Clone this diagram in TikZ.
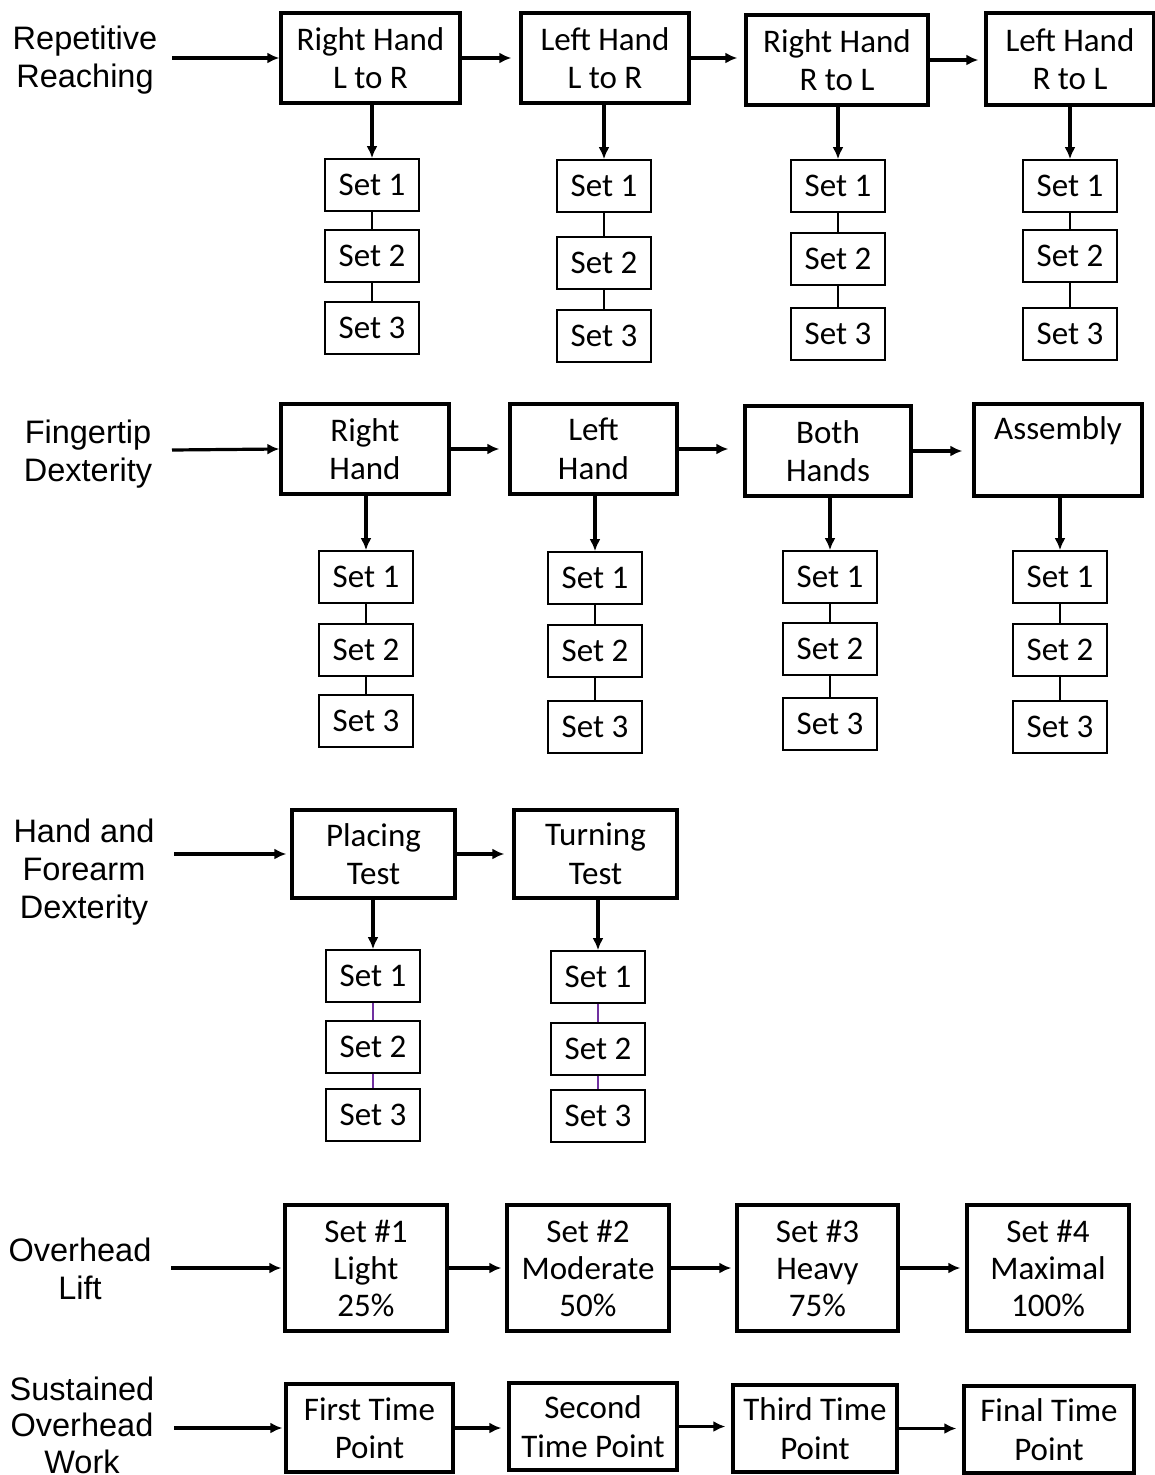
\documentclass[tikz,border=0pt]{standalone}
\usepackage{fontspec}
\setmainfont{Carlito}
\newfontfamily\labelfont{Liberation Sans}
\usetikzlibrary{positioning,arrows.meta}
\definecolor{linkpurple}{RGB}{112,48,160}

\tikzset{
	mainbox/.style={draw, line width=3.3pt, align=center, inner sep=0pt, font=\fontsize{33}{38.5}\selectfont},
	setbox/.style={draw, line width=1.7pt, minimum width=94pt, minimum height=52pt, inner sep=0pt, font=\fontsize{33}{38}\selectfont},
	rowlabel/.style={align=center, font=\labelfont\fontsize{32.5}{38}\selectfont},
	flow/.style={-{Latex[length=12pt,width=11pt]}, line width=3.2pt},
	link/.style={line width=1.5pt},
}

\begin{document}
\begin{tikzpicture}[x=1pt, y=-1pt]
	\useasboundingbox (0,0) rectangle (1155,1475);

	% repetitive reaching
	\node[rowlabel] (reach) at (85,60) {Repetitive\\Reaching};
	\coordinate (reachout) at (172,58);
	\node[mainbox, minimum width=179pt, minimum height=90pt] (rr1) at (370.5,58) {Right Hand\\L to R};
	\node[mainbox, minimum width=168pt, minimum height=90pt] (rr2) at (605,58) {Left Hand\\L to R};
	\node[mainbox, minimum width=182pt, minimum height=90pt] (rr3) at (837,60) {Right Hand\\R to L};
	\node[mainbox, minimum width=168pt, minimum height=92pt] (rr4) at (1070,59) {Left Hand\\R to L};
	\draw[flow] (reachout) -- (rr1.west);
	\draw[flow, shorten >=8pt] (rr1.east) -- (rr1.east -| rr2.west);
	\draw[flow, shorten >=7pt] (rr2.east) -- (rr2.east -| rr3.west);
	\draw[flow, shorten >=6pt] (rr3.east) -- (rr3.east -| rr4.west);

	% fingertip dexterity
	\node[rowlabel] (finger) at (88,454) {Fingertip\\Dexterity};
	\coordinate (fingerout) at (172,450);
	\node[mainbox, minimum width=168pt, minimum height=90pt] (fd1) at (365,449) {Right\\Hand};
	\node[mainbox, minimum width=167pt, minimum height=90pt] (fd2) at (593.5,449) {Left\\Hand};
	\node[mainbox, minimum width=166pt, minimum height=90pt] (fd3) at (828,451) {Both\\Hands};
	\node[mainbox, minimum width=168pt, minimum height=92pt] (fd4) at (1058,450) {Assembly\\\phantom{Xy}};
	\draw[flow] (fingerout) -- (fd1.west);
	\draw[flow, shorten >=9pt] (fd1.east) -- (fd1.east -| fd2.west);
	\draw[flow, shorten >=15pt] (fd2.east) -- (fd2.east -| fd3.west);
	\draw[flow, shorten >=10pt] (fd3.east) -- (fd3.east -| fd4.west);

	% hand and forearm dexterity
	\node[rowlabel] (forearm) at (84,872) {Hand and\\Forearm\\Dexterity};
	\coordinate (forearmout) at (174,854);
	\node[mainbox, minimum width=163pt, minimum height=88pt] (hf1) at (373.5,854) {Placing\\Test};
	\node[mainbox, minimum width=163pt, minimum height=88pt] (hf2) at (595.5,854) {Turning\\Test};
	\draw[flow, shorten >=4pt] (forearmout) -- (hf1.west);
	\draw[flow, shorten >=8pt] (hf1.east) -- (hf1.east -| hf2.west);

	% set stacks under the boxes
	\foreach \n/\x/\ya/\yb/\yc/\c in {rr1/372/185/256/328/black, rr2/604/186/263/336/black,
		rr3/838/186/259/334/black, rr4/1070/186/256/334/black,
		fd1/366/577/650/721/black, fd2/595/578/651/727/black,
		fd3/830/577/649/724/black, fd4/1060/577/650/727/black,
		hf1/373/976/1047/1115/linkpurple, hf2/598/977/1049/1116/linkpurple}{
		\node[setbox] (\n-1) at (\x,\ya) {Set 1};
		\node[setbox] (\n-2) at (\x,\yb) {Set 2};
		\node[setbox] (\n-3) at (\x,\yc) {Set 3};
		\draw[flow] (\n-1.north |- \n.south) -- (\n-1.north);
		\draw[link, \c] (\n-1) -- (\n-2);
		\draw[link, \c] (\n-2) -- (\n-3);
	}

	% overhead lift
	\node[rowlabel] (lift) at (80,1269) {Overhead\\Lift};
	\coordinate (liftout) at (171,1268);
	\node[mainbox, minimum width=162pt, minimum height=126pt, font=\fontsize{33}{37}\selectfont] (ol1) at (366,1268) {Set \#1\\Light\\25\%};
	\node[mainbox, minimum width=162pt, minimum height=126pt, font=\fontsize{33}{37}\selectfont] (ol2) at (588,1268) {Set \#2\\Moderate\\50\%};
	\node[mainbox, minimum width=161pt, minimum height=126pt, font=\fontsize{33}{37}\selectfont] (ol3) at (817.5,1268) {Set \#3\\Heavy\\75\%};
	\node[mainbox, minimum width=162pt, minimum height=126pt, font=\fontsize{33}{37}\selectfont] (ol4) at (1048,1268) {Set \#4\\Maximal\\100\%};
	\draw[flow, shorten >=2pt] (liftout) -- (ol1.west);
	\draw[flow, shorten >=4pt] (ol1) -- (ol2);
	\draw[flow, shorten >=4pt] (ol2) -- (ol3);
	\draw[flow, shorten >=5pt] (ol3) -- (ol4);

	% sustained overhead work
	\node[rowlabel, font=\labelfont\fontsize{32.5}{36.5}\selectfont] (work) at (82,1425) {Sustained\\Overhead\\Work};
	\coordinate (workout) at (174,1428);
	\node[mainbox, minimum width=167pt, minimum height=88pt] (sw1) at (369.5,1428) {First Time\\Point};
	\node[mainbox, minimum width=168pt, minimum height=87pt] (sw2) at (593,1426.5) {Second\\Time Point};
	\node[mainbox, minimum width=164pt, minimum height=87pt] (sw3) at (815,1428.5) {Third Time\\Point};
	\node[mainbox, minimum width=170pt, minimum height=87pt] (sw4) at (1049,1429.5) {Final Time\\Point};
	\draw[flow, shorten >=2pt] (workout) -- (sw1.west);
	\draw[flow, shorten >=6pt] (sw1.east) -- (sw1.east -| sw2.west);
	\draw[flow, shorten >=6pt] (sw2.east) -- (sw2.east -| sw3.west);
	\draw[flow, shorten >=6pt] (sw3.east) -- (sw3.east -| sw4.west);
\end{tikzpicture}
\end{document}
